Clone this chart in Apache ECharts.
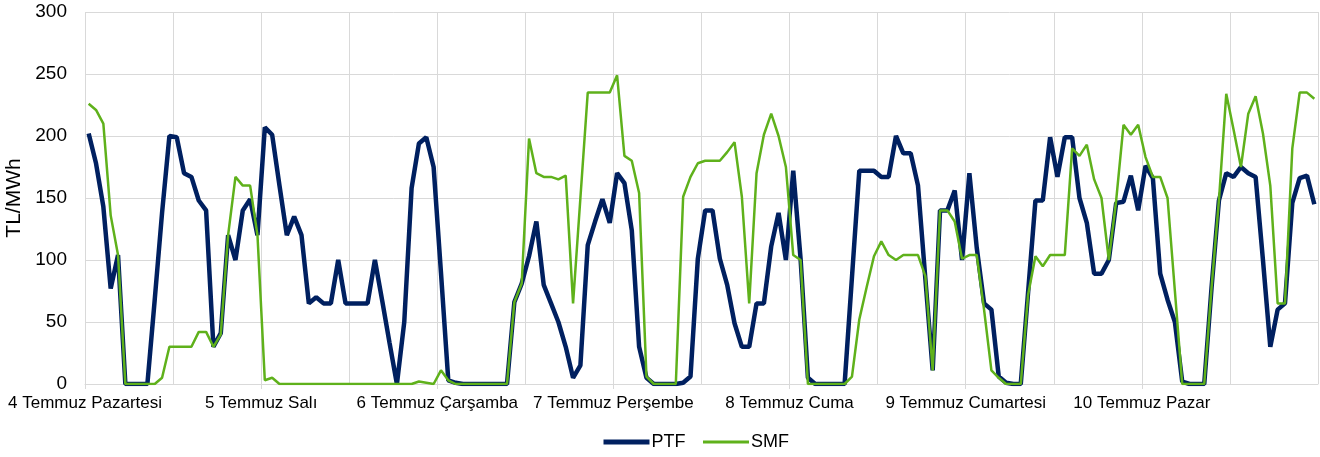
<!DOCTYPE html>
<html>
<head>
<meta charset="utf-8">
<script src="https://cdn.jsdelivr.net/npm/echarts@6/dist/echarts.min.js"></script>
<style>
  html, body { margin: 0; padding: 0; background: #fff; }
  #chart { width: 1320px; height: 457px; }
</style>
</head>
<body>
<div id="chart"></div>
<script>
// gün etiketleri, her 24 saatte bir
const days = ['4 Temmuz Pazartesi', '5 Temmuz Salı', '6 Temmuz Çarşamba', '7 Temmuz Perşembe', '8 Temmuz Cuma', '9 Temmuz Cumartesi', '10 Temmuz Pazar']

// saatlik PTF (TL/MWh), 7 gün x 24 saat
const ptf = [
  202, 178, 143, 77, 104, 0, 0, 0, 0, 68, 138, 200, 199, 170, 167, 148, 140, 30, 41, 120, 100, 140, 149, 120,
  207, 201, 160, 120, 135, 120, 65, 70, 65, 65, 100, 65, 65, 65, 65, 100, 67, 33, 0, 50, 158, 194, 199, 175,
  90, 3, 1, 0, 0, 0, 0, 0, 0, 0, 66, 81, 103, 131, 80, 65, 50, 30, 5, 15, 112, 131, 149, 130,
  170, 162, 124, 30, 5, 0, 0, 0, 0, 1, 6, 101, 140, 140, 101, 80, 49, 30, 30, 65, 65, 111, 138, 100,
  172, 101, 5, 0, 0, 0, 0, 0, 86, 172, 172, 172, 167, 167, 200, 186, 186, 160, 85, 11, 140, 140, 156, 100,
  170, 110, 65, 60, 6, 1, 0, 0, 74, 148, 148, 199, 167, 199, 199, 150, 130, 89, 89, 100, 146, 147, 168, 140,
  176, 166, 89, 68, 50, 2, 0, 0, 0, 78, 148, 170, 167, 175, 170, 167, 100, 30, 60, 65, 146, 166, 168, 145,
]

// saatlik SMF (TL/MWh)
const smf = [
  226, 221, 210, 136, 104, 0, 0, 0, 0, 0, 5, 30, 30, 30, 30, 42, 42, 30, 40, 120, 167, 160, 160, 120,
  3, 5, 0, 0, 0, 0, 0, 0, 0, 0, 0, 0, 0, 0, 0, 0, 0, 0, 0, 0, 0, 2, 1, 0,
  11, 3, 0, 0, 0, 0, 0, 0, 0, 0, 66, 81, 198, 170, 167, 167, 165, 168, 65, 150, 235, 235, 235, 235,
  249, 184, 180, 154, 6, 0, 0, 0, 0, 151, 167, 178, 180, 180, 180, 187, 195, 151, 65, 170, 201, 218, 200, 175,
  104, 100, 0, 0, 0, 0, 0, 0, 6, 52, 78, 103, 115, 104, 100, 104, 104, 104, 87, 11, 140, 140, 131, 101,
  104, 104, 60, 11, 5, 0, 0, 0, 72, 103, 95, 104, 104, 104, 190, 184, 193, 165, 150, 100, 148, 209, 201, 209,
  183, 167, 167, 150, 75, 0, 0, 0, 0, 78, 148, 234, 205, 175, 218, 232, 202, 160, 65, 65, 190, 235, 235, 230,
]

const font = "'Liberation Sans', Arial, sans-serif"
const gridColor = '#d9d9d9'
const navy = '#002060'
const green = '#5fb11b'

// her saat kendi aralığının ortasına
const toPoints = (arr) => arr.map((v, i) => [i + 0.5, v])

const chart = echarts.init(document.getElementById('chart'))
const options = {
  animation: false,
  textStyle: { fontFamily: font },
  grid: {
    left: 85,
    right: 2,
    top: 12,
    bottom: 73,
    containLabel: false,
    outerBoundsMode: 'none',
  },
  legend: {
    data: [
      { name: 'PTF', lineStyle: { width: 5, color: navy } },
      { name: 'SMF', lineStyle: { width: 3, color: green } },
    ],
    left: 596,
    top: 428,
    itemWidth: 46,
    itemHeight: 14,
    itemGap: 16,
    itemStyle: { opacity: 0 },
    textStyle: { fontSize: 18, color: '#000', fontFamily: font, padding: [0, 0, 0, -3] },
  },
  xAxis: [
    {
      type: 'value',
      min: 0,
      max: days.length * 24,
      interval: 12,
      axisLine: { show: true, lineStyle: { color: gridColor } },
      axisTick: { show: false },
      axisLabel: { show: false },
      splitLine: { show: true, lineStyle: { color: gridColor, width: 1 } },
    },
    {
      type: 'value',
      position: 'bottom',
      min: 0,
      max: days.length * 24,
      interval: 24,
      axisLine: { show: false },
      axisTick: { show: true, length: 5, lineStyle: { color: gridColor } },
      splitLine: { show: false },
      axisLabel: {
        color: '#000',
        fontSize: 17,
        margin: 11,
        fontFamily: font,
        showMaxLabel: false,
        formatter: (v) => days[v / 24] || '',
      },
    },
  ],
  yAxis: {
    type: 'value',
    min: 0,
    max: 300,
    interval: 50,
    name: 'TL/MWh',
    nameLocation: 'middle',
    nameRotate: 90,
    nameGap: 60,
    nameMoveOverlap: false,
    nameTextStyle: { fontSize: 21, color: '#000', fontFamily: font },
    axisLine: { show: false },
    axisTick: { show: false },
    axisLabel: { color: '#000', fontSize: 19, margin: 18, fontFamily: font },
    splitLine: { lineStyle: { color: gridColor, width: 1 } },
  },
  series: [
    {
      name: 'PTF',
      type: 'line',
      xAxisIndex: 0,
      symbol: 'none',
      lineStyle: { color: navy, width: 4.5 },
      itemStyle: { color: navy },
      data: toPoints(ptf),
    },
    {
      name: 'SMF',
      type: 'line',
      xAxisIndex: 0,
      symbol: 'none',
      lineStyle: { color: green, width: 2.5 },
      itemStyle: { color: green },
      data: toPoints(smf),
    },
  ],
}
chart.setOption(options)
</script>
</body>
</html>
